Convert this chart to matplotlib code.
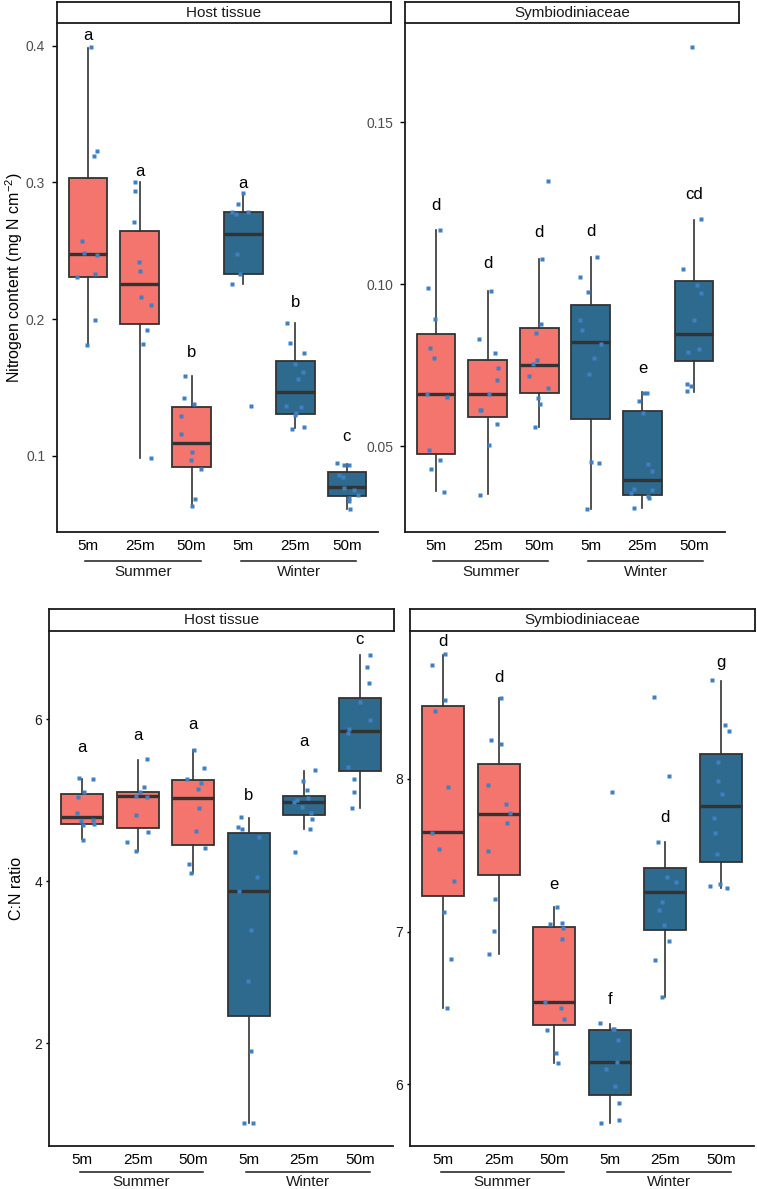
import numpy as np
import matplotlib
matplotlib.use("Agg")
import matplotlib.pyplot as plt

plt.rcParams["font.family"] = ["Liberation Sans", "DejaVu Sans"]
plt.rcParams["mathtext.fontset"] = "custom"
plt.rcParams["mathtext.rm"] = "Liberation Sans"

GROUPS = ["5m", "25m", "50m", "5m", "25m", "50m"]
SEASONS = ["Summer", "Winter"]
FILLS = ["#F3756D"] * 3 + ["#2E6A8D"] * 3
PT_COLOR = "#3F80C4"

# --- nitrogen content, host tissue
hn_lo = [0.1805, 0.0982, 0.0633, 0.2257, 0.1206, 0.0613]
hn_q1 = [0.2310, 0.1966, 0.0918, 0.2330, 0.1308, 0.0706]
hn_med = [0.2476, 0.2257, 0.1095, 0.2622, 0.1464, 0.0774]
hn_q3 = [0.3034, 0.2642, 0.1359, 0.2781, 0.1693, 0.0879]
hn_hi = [0.3985, 0.3000, 0.1585, 0.2920, 0.1969, 0.0937]
hn_pts = [
    [0.399, 0.323, 0.319, 0.257, 0.248, 0.247, 0.231, 0.233, 0.199, 0.181],
    [0.300, 0.294, 0.271, 0.242, 0.235, 0.216, 0.210, 0.192, 0.182, 0.098],
    [0.158, 0.142, 0.138, 0.129, 0.116, 0.103, 0.097, 0.090, 0.068, 0.063],
    [0.2925, 0.2844, 0.278, 0.277, 0.278, 0.2476, 0.233, 0.2257, 0.1364],
    [0.1969, 0.1823, 0.1752, 0.1669, 0.1615, 0.1564, 0.1357, 0.1364, 0.1311, 0.1298, 0.1211, 0.1198],
    [0.0933, 0.0945, 0.093, 0.0843, 0.086, 0.075, 0.0762, 0.0713, 0.0689, 0.0672, 0.0613],
]
hn_letters = ["a", "a", "b", "a", "b", "c"]
hn_letter_y = [0.4071, 0.3076, 0.1754, 0.2993, 0.2124, 0.1143]

# --- nitrogen content, Symbiodiniaceae
sn_lo = [0.0361, 0.0351, 0.0560, 0.0306, 0.0310, 0.0668]
sn_q1 = [0.0475, 0.0590, 0.0664, 0.0584, 0.0350, 0.0763]
sn_med = [0.0660, 0.0660, 0.0749, 0.0820, 0.0395, 0.0846]
sn_q3 = [0.0845, 0.0765, 0.0864, 0.0935, 0.0609, 0.1011]
sn_hi = [0.1167, 0.0978, 0.1079, 0.1084, 0.0668, 0.1198]
sn_pts = [
    [0.1167, 0.0987, 0.0892, 0.0803, 0.0772, 0.0661, 0.0652, 0.0489, 0.0456, 0.0428, 0.0358],
    [0.0978, 0.0830, 0.0787, 0.0741, 0.0704, 0.0661, 0.0612, 0.0612, 0.0569, 0.0504, 0.0350],
    [0.1318, 0.1079, 0.0877, 0.0848, 0.0767, 0.0752, 0.0717, 0.0678, 0.0648, 0.0630, 0.0559],
    [0.1085, 0.1022, 0.0976, 0.0890, 0.0858, 0.0815, 0.0773, 0.0722, 0.0452, 0.0448, 0.0305],
    [0.0665, 0.0665, 0.0638, 0.0602, 0.0444, 0.0422, 0.0369, 0.0365, 0.0354, 0.0347, 0.0339, 0.0308],
    [0.1732, 0.1200, 0.1048, 0.0998, 0.0973, 0.0888, 0.0800, 0.0790, 0.0692, 0.0687, 0.0670],
]
sn_letters = ["d", "d", "d", "d", "e", "cd"]
sn_letter_y = [0.1244, 0.1064, 0.1160, 0.1164, 0.0739, 0.1277]

# --- C:N ratio, host tissue
hc_lo = [4.518, 4.378, 4.106, 1.020, 4.649, 4.901]
hc_q1 = [4.711, 4.662, 4.452, 2.337, 4.815, 5.362]
hc_med = [4.798, 5.053, 5.028, 3.884, 4.975, 5.860]
hc_q3 = [5.082, 5.099, 5.254, 4.596, 5.049, 6.267]
hc_hi = [5.267, 5.501, 5.621, 4.785, 5.362, 6.790]
hc_pts = [
    [5.272, 5.263, 5.099, 5.037, 4.840, 4.757, 4.744, 4.704, 4.695, 4.514],
    [5.510, 5.164, 5.107, 5.058, 5.045, 4.823, 4.613, 4.489, 4.378],
    [5.625, 5.399, 5.267, 5.218, 5.144, 4.909, 4.621, 4.407, 4.214, 4.106],
    [4.790, 4.674, 4.646, 4.543, 4.057, 3.884, 3.395, 2.769, 1.905, 1.020, 1.020],
    [5.370, 5.238, 5.127, 5.028, 5.004, 4.975, 4.917, 4.840, 4.774, 4.649, 4.366],
    [6.798, 6.642, 6.444, 6.210, 5.991, 5.884, 5.835, 5.407, 5.263, 5.099, 4.901],
]
hc_letters = ["a", "a", "a", "b", "a", "c"]
hc_letter_y = [5.650, 5.798, 5.938, 5.057, 5.724, 6.979]

# --- C:N ratio, Symbiodiniaceae
sc_lo = [6.502, 6.854, 6.138, 5.749, 6.572, 7.284]
sc_q1 = [7.234, 7.371, 6.391, 5.931, 7.011, 7.458]
sc_med = [7.651, 7.773, 6.537, 6.147, 7.260, 7.825]
sc_q3 = [8.480, 8.096, 7.033, 6.356, 7.415, 8.164]
sc_hi = [8.810, 8.528, 7.160, 6.398, 7.585, 8.642]
sc_pts = [
    [8.817, 8.745, 8.515, 8.445, 7.950, 7.648, 7.540, 7.334, 7.131, 6.819, 6.498],
    [8.533, 8.253, 8.227, 7.963, 7.834, 7.775, 7.710, 7.528, 7.214, 7.003, 6.854],
    [7.164, 7.059, 7.048, 7.022, 6.954, 6.537, 6.502, 6.430, 6.354, 6.204, 6.138],
    [7.915, 6.402, 6.361, 6.361, 6.289, 6.147, 6.099, 5.990, 5.878, 5.767, 5.749],
    [8.539, 8.018, 7.589, 7.356, 7.325, 7.197, 7.140, 7.042, 6.939, 6.815, 6.572],
    [8.648, 8.354, 8.312, 8.113, 7.989, 7.904, 7.745, 7.648, 7.509, 7.310, 7.301, 7.284],
]
sc_letters = ["d", "d", "e", "f", "d", "g"]
sc_letter_y = [8.897, 8.666, 7.308, 6.557, 7.749, 8.762]

W, H = 757, 1189
fig = plt.figure(figsize=(W / 100, H / 100), dpi=100)
rng = np.random.default_rng(7)


def px_rect(x0, x1, y0, y1):
    return [x0 / W, 1 - y1 / H, (x1 - x0) / W, (y1 - y0) / H]


def strip(x0, x1, y0, y1, title):
    sa = fig.add_axes(px_rect(x0, x1, y0, y1))
    sa.set_xticks([])
    sa.set_yticks([])
    for s in sa.spines.values():
        s.set_linewidth(1.3)
        s.set_color("#1a1a1a")
    sa.text(0.5, 0.48, title, ha="center", va="center", fontsize=11, color="#1a1a1a",
            transform=sa.transAxes)


def panel(rect, ylim, lo, q1, med, q3, hi, pts, letters, letter_y,
          yticks, yticklabels, tick_color, label_off, ytick_style, ylabel=None):
    ax = fig.add_axes(rect)
    stats = [dict(whislo=a, q1=b, med=c, q3=d, whishi=e, fliers=[])
             for a, b, c, d, e in zip(lo, q1, med, q3, hi)]
    pos = np.arange(1, 7)
    bp = ax.bxp(stats, positions=pos, widths=0.75, patch_artist=True, showcaps=False,
                boxprops=dict(edgecolor="#333333", linewidth=1.3),
                whiskerprops=dict(color="#333333", linewidth=1.2),
                medianprops=dict(color="#333333", linewidth=2.4))
    for patch, fc in zip(bp["boxes"], FILLS):
        patch.set_facecolor(fc)
    # jittered raw points, as geom_jitter would draw them
    for i, vals in enumerate(pts):
        xs = pos[i] + rng.uniform(-0.22, 0.22, len(vals))
        ax.plot(xs, vals, "s", ms=3.0, color=PT_COLOR, mec="none", zorder=5)
    for i, (lt, ly) in enumerate(zip(letters, letter_y)):
        ax.text(pos[i], ly, lt, ha="center", va="center", fontsize=12, color="black")
    ax.set_xlim(0.4, 6.6)
    ax.set_ylim(*ylim)
    ax.set_yticks(yticks)
    ax.set_yticklabels(yticklabels)
    ax.set_xticks(pos)
    ax.set_xticklabels(GROUPS)
    tlen, tpad = ytick_style
    ax.tick_params(axis="y", length=tlen, width=1, labelsize=10, labelcolor=tick_color,
                   pad=tpad)
    ax.tick_params(axis="x", length=0, labelsize=11, labelcolor="black", pad=5)
    for s in ["top", "right"]:
        ax.spines[s].set_visible(False)
    for s in ["left", "bottom"]:
        ax.spines[s].set_linewidth(1.3)
        ax.spines[s].set_color("#1a1a1a")
    line_y, text_y = label_off
    trans = ax.get_xaxis_transform()
    for k, season in enumerate(SEASONS):
        a, b = 1 + 3 * k - 0.05, 3 + 3 * k + 0.18
        ax.plot([a, b], [line_y, line_y], color="#1a1a1a", lw=1.1, transform=trans,
                clip_on=False)
        ax.text((a + b) / 2, text_y, season, ha="center", va="center", fontsize=11,
                transform=trans, color="#1a1a1a")
    if ylabel:
        lx, text = ylabel
        ax.set_ylabel(text, fontsize=11.5)
        ax.yaxis.set_label_coords(lx, 0.5)
    return ax


top_off = (-28.7 / 509, -39.7 / 509)
bot_off = (-25.7 / 515, -35.7 / 515)

# top row: nitrogen content
panel(px_rect(57, 378, 23, 532), (0.0442, 0.4166), hn_lo, hn_q1, hn_med, hn_q3, hn_hi,
      hn_pts, hn_letters, hn_letter_y, [0.1, 0.2, 0.3, 0.4], ["0.1", "0.2", "0.3", "0.4"],
      "#4d4d4d", top_off, (3.5, 5), (-0.1, r"Nitrogen content (mg N cm$^{-2}$)"))
strip(57, 391, 2, 23, "Host tissue")

panel(px_rect(405, 725, 23, 532), (0.0235, 0.1806), sn_lo, sn_q1, sn_med, sn_q3, sn_hi,
      sn_pts, sn_letters, sn_letter_y, [0.05, 0.10, 0.15], ["0.05", "0.10", "0.15"],
      "#4d4d4d", top_off, (3.5, 5))
strip(405, 739, 2, 23, "Symbiodiniaceae")

# bottom row: C:N ratio
panel(px_rect(49, 393, 631, 1146), (0.732, 7.09), hc_lo, hc_q1, hc_med, hc_q3, hc_hi,
      hc_pts, hc_letters, hc_letter_y, [2, 4, 6], ["2", "4", "6"],
      "#1a1a1a", bot_off, (2, 3), (-0.072, "C:N ratio"))
strip(49, 394, 609, 631, "Host tissue")

panel(px_rect(410, 754, 631, 1146), (5.596, 8.969), sc_lo, sc_q1, sc_med, sc_q3, sc_hi,
      sc_pts, sc_letters, sc_letter_y, [6, 7, 8], ["6", "7", "8"],
      "#1a1a1a", bot_off, (2, 3))
strip(410, 755, 609, 631, "Symbiodiniaceae")

fig.savefig("out.png", dpi=100, facecolor="white")
